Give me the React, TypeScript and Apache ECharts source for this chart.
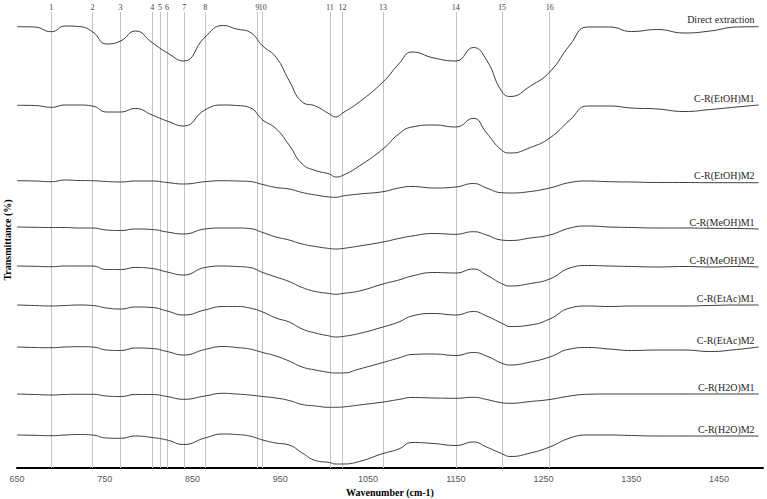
import React, { useEffect, useRef } from "react";
import * as echarts from "echarts";

// Wavenumber sampling points (cm-1)
const WAVENUMBERS = [650, 670, 689, 705, 720, 736, 752, 768, 785, 804, 821, 840, 864, 885, 900, 915, 930, 945, 960, 975, 990, 1006, 1013, 1021, 1040, 1067, 1085, 1100, 1125, 1150, 1170, 1185, 1202, 1212, 1235, 1257, 1280, 1300, 1325, 1350, 1380, 1410, 1440, 1470, 1495];

// Stacked transmittance traces (arbitrary units, offset per spectrum)
const DIRECT_EXTRACTION = [441.3, 441, 436.3, 442, 441.5, 436.3, 424, 427, 437, 425.3, 415.3, 407, 430.7, 442.5, 439, 436, 422, 411, 387.5, 366, 362, 354, 351, 355, 366, 386, 404, 416, 410, 407, 420.5, 408, 377, 371.5, 382, 396, 423, 441, 441, 436.5, 438.5, 435, 437, 441, 441.3];
const ETOH_M1 = [362.7, 362.5, 360.7, 363, 363, 362, 356, 356, 359.5, 353, 347, 342, 358, 363, 362.5, 360.5, 348, 339.5, 323, 304, 297.5, 294, 291, 292.5, 302, 319, 334, 341, 343, 341, 349.7, 335, 318, 315, 320.5, 330, 348, 362, 362, 360, 359, 356.5, 358.5, 361, 363];
const ETOH_M2 = [287.3, 287, 286.3, 288, 287.5, 287.3, 286.5, 286, 287, 287, 285.5, 284, 286.3, 287.3, 287, 286.5, 283.5, 280.5, 279, 275.5, 273, 271, 270.7, 272, 274, 276.3, 280, 281.5, 280, 281, 284.5, 280, 275.3, 275, 276.5, 280, 285.5, 287, 286.3, 286, 285.5, 285.5, 285.3, 285.3, 285.3];
const MEOH_M1 = [241, 240.7, 240.5, 240.5, 240, 240, 238, 237.5, 239, 238.5, 236, 234, 239, 240, 240, 239.5, 235.5, 231, 228, 224, 221.5, 219.5, 219, 219.5, 222, 226, 229.5, 232, 234.5, 233.7, 236.3, 233, 228, 227.5, 230, 233, 240, 242, 241, 240.5, 240, 240, 239.7, 239.5, 239];
const MEOH_M2 = [202, 201.7, 201.3, 202, 202, 202, 198.5, 198.5, 200.5, 199.5, 196, 193, 200.5, 202, 201.5, 200.5, 195.5, 191, 186.5, 180.5, 176.5, 174.5, 173.7, 174.5, 177, 184, 188, 192, 195.5, 195, 199, 193, 184.5, 182, 184.5, 189, 200, 202.5, 202, 201.5, 201, 201.5, 201, 201.5, 201];
const ETAC_M1 = [163, 162.5, 162, 162.5, 163, 162.5, 160, 159, 161, 160.5, 157, 153, 158, 161.5, 161.5, 160, 156, 150, 146, 139, 135, 132, 131, 131.5, 134.5, 141, 146, 152, 154.5, 153, 156.5, 152, 145, 141.5, 143, 149, 160, 162, 161.5, 162, 162, 162, 162.5, 163, 163];
const ETAC_M2 = [121, 120.5, 120.3, 121, 121.3, 121, 118, 117.5, 120, 119.5, 116.5, 113, 118.5, 121.5, 120.5, 119, 115.5, 112, 107, 101, 98, 95.5, 95, 95, 99, 105.5, 110, 113.5, 114, 112.5, 115.5, 112, 105, 103, 106, 111, 119, 120.5, 119, 117.5, 118, 118, 116.5, 118.5, 121];
const H2O_M1 = [74, 73.5, 73, 73.5, 73.7, 73.7, 72, 71.5, 73.5, 73.5, 71.5, 68.7, 72, 74.7, 74, 73, 71.5, 70, 67.5, 63.5, 62, 60.7, 60.7, 61, 63, 66, 68.5, 70.5, 70, 69.7, 70.7, 68.5, 65.3, 64.7, 66.5, 68.5, 72, 73.7, 74, 74, 74, 74, 74, 74, 74];
const H2O_M2 = [33, 32.7, 32.3, 33, 33.5, 33, 30, 29.7, 32, 30.5, 28, 23.5, 30, 34, 33.5, 32, 28, 25, 23, 15, 7.5, 5.5, 4, 4, 6.5, 14.5, 19, 25.5, 24.5, 22.5, 26, 21, 14.5, 11.5, 15, 21, 30, 33, 33, 32.5, 32, 32, 32, 32, 32];

const SERIES_NAMES = ["Direct extraction", "C-R(EtOH)M1", "C-R(EtOH)M2", "C-R(MeOH)M1", "C-R(MeOH)M2", "C-R(EtAc)M1", "C-R(EtAc)M2", "C-R(H2O)M1", "C-R(H2O)M2"];
const SERIES_VALUES = [DIRECT_EXTRACTION, ETOH_M1, ETOH_M2, MEOH_M1, MEOH_M2, ETAC_M1, ETAC_M2, H2O_M1, H2O_M2];

// Marked band positions (cm-1) and their numbers
const BAND_POSITIONS = [689, 736, 768, 804, 813, 821, 840.6, 864.5, 924, 930, 1006.5, 1021, 1067, 1150, 1202.7, 1257];
const BAND_LABELS = ["1", "2", "3", "4", "5", "6", "7", "8", "9", "10", "11", "12", "13", "14", "15", "16"];

const SERIF = "'Liberation Serif', 'Times New Roman', serif";

export default function App() {
  const ref = useRef<HTMLDivElement>(null);

  useEffect(() => {
    if (!ref.current) return;
    const chart = echarts.init(ref.current, null, { renderer: "svg" });

    const series: any[] = SERIES_VALUES.map((vals, si) => {
      const lastIdx = vals.length - 1;
      const s: any = {
        name: SERIES_NAMES[si],
        type: "line",
        data: WAVENUMBERS.map((w, i) => [w, vals[i]]),
        showSymbol: false,
        symbol: "none",
        smooth: 0.5,
        lineStyle: { color: "#3a3a3a", width: 1 },
        silent: true,
        z: 3,
        markPoint: {
          silent: true,
          symbol: "circle",
          symbolSize: 0,
          data: [
            {
              coord: [WAVENUMBERS[lastIdx], vals[lastIdx]],
              label: {
                show: true,
                formatter: SERIES_NAMES[si],
                position: "left",
                distance: 4,
                offset: [0, -7],
                color: "#262626",
                fontFamily: SERIF,
                fontSize: 10,
              },
            },
          ],
        },
      };
      if (si === 0) {
        s.markLine = {
          silent: true,
          symbol: ["none", "none"],
          lineStyle: { color: "#c4c4c4", width: 1, type: "solid" },
          z: 1,
          label: {
            show: true,
            position: "end",
            distance: 1,
            color: "#404040",
            fontFamily: SERIF,
            fontSize: 8,
          },
          data: BAND_POSITIONS.map((x, i) => ({
            xAxis: x,
            label: { formatter: BAND_LABELS[i] },
          })),
        };
      }
      return s;
    });

    chart.setOption({
      animation: false,
      backgroundColor: "#ffffff",
      grid: { left: 17, right: 4, top: 12, bottom: 31, containLabel: false, outerBoundsMode: "none" },
      xAxis: {
        type: "value",
        min: 650,
        max: 1500,
        interval: 100,
        name: "Wavenumber (cm-1)",
        nameLocation: "middle",
        nameGap: 19,
        nameTextStyle: { fontFamily: SERIF, fontWeight: "bold", fontSize: 10, color: "#000" },
        axisLine: { show: true, lineStyle: { color: "#000", width: 2 } },
        axisTick: { show: false },
        splitLine: { show: false },
        axisLabel: {
          color: "#595959",
          fontFamily: "'Liberation Sans', Arial, sans-serif",
          fontSize: 9,
          margin: 6,
          showMaxLabel: false,
          formatter: (v: number) => String(v),
        },
      },
      yAxis: {
        type: "value",
        min: 0,
        max: 456,
        name: "Transmittance (%)",
        nameLocation: "middle",
        nameGap: 5,
        nameTextStyle: { fontFamily: SERIF, fontWeight: "bold", fontSize: 10, color: "#000" },
        axisLine: { show: false },
        axisTick: { show: false },
        axisLabel: { show: false },
        splitLine: { show: false },
      },
      series,
    });

    return () => chart.dispose();
  }, []);

  return (
    <div
      ref={ref}
      style={{ position: "absolute", left: 0, top: 0, width: 767, height: 499, background: "#fff" }}
    />
  );
}
